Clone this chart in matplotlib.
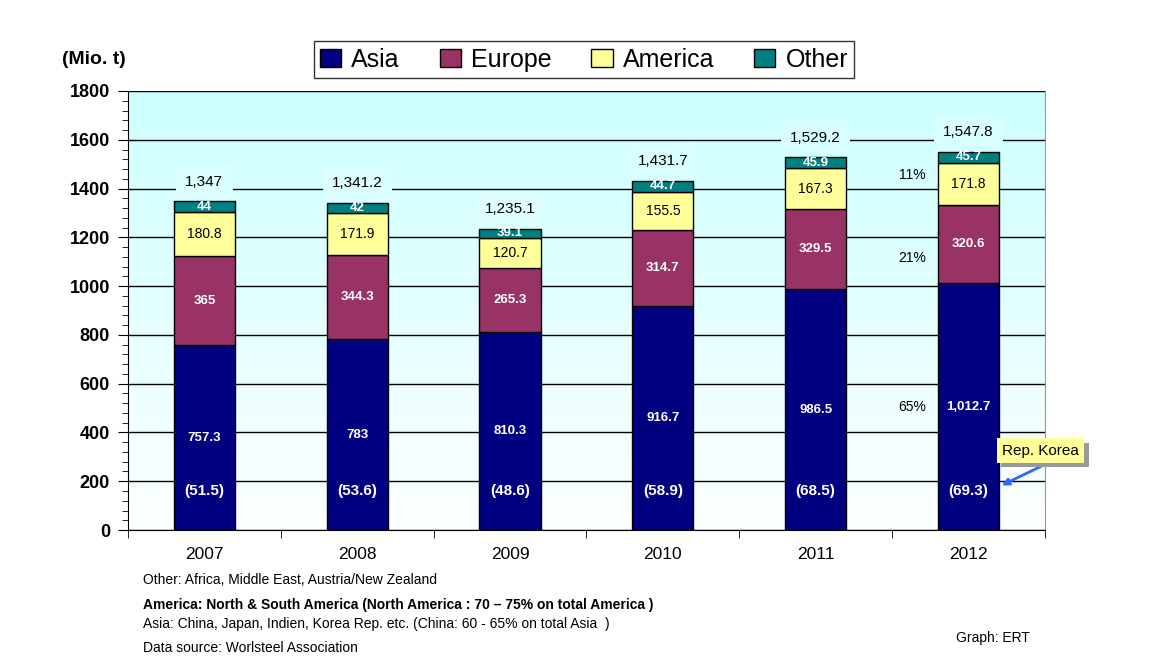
import numpy as np
import matplotlib.pyplot as plt
from matplotlib.colors import LinearSegmentedColormap
import matplotlib.patheffects as pe

plt.rcParams['font.family'] = ['Liberation Sans', 'DejaVu Sans']

years = ['2007', '2008', '2009', '2010', '2011', '2012']
asia = [757.3, 783, 810.3, 916.7, 986.5, 1012.7]
europe = [365, 344.3, 265.3, 314.7, 329.5, 320.6]
america = [180.8, 171.9, 120.7, 155.5, 167.3, 171.8]
other = [44, 42, 39.1, 44.7, 45.9, 45.7]
totals = ['1,347', '1,341.2', '1,235.1', '1,431.7', '1,529.2', '1,547.8']
asia_lbl = ['757.3', '783', '810.3', '916.7', '986.5', '1,012.7']
korea = ['(51.5)', '(53.6)', '(48.6)', '(58.9)', '(68.5)', '(69.3)']
shares = ['11%', '21%', '65%']
notes = ['Other: Africa, Middle East, Austria/New Zealand',
         'America: North & South America (North America : 70 \u2013 75% on total America )',
         'Asia: China, Japan, Indien, Korea Rep. etc. (China: 60 - 65% on total Asia  )',
         'Data source: Worlsteel Association']

fig = plt.figure(figsize=(11.75, 6.71), dpi=100)
ax = fig.add_axes([0.1089, 0.2101, 0.7804, 0.6543])

x = np.arange(len(years))
w = 0.4
a = np.array(asia); e = np.array(europe); am = np.array(america); o = np.array(other)

# gradient background, white-ish at the bottom to light cyan at the top
top_c = np.array([0.80, 1.0, 1.0])
bot_c = np.array([0.99, 1.0, 1.0])
cmap = LinearSegmentedColormap.from_list('bg', [bot_c, top_c])
grad = np.linspace(0, 1, 256).reshape(-1, 1)
ax.imshow(grad, extent=[-0.5, 5.5, 0, 1800], origin='lower', aspect='auto', cmap=cmap, zorder=0)

ax.set_ylim(0, 1800)
ax.set_xlim(-0.5, 5.5)
ax.yaxis.grid(True, color='black', lw=1, zorder=1)
ax.set_axisbelow(True)

b1 = ax.bar(x, a, w, color='#000080', edgecolor='black', lw=1, label='Asia', zorder=3)
b2 = ax.bar(x, e, w, bottom=a, color='#993366', edgecolor='black', lw=1, label='Europe', zorder=3)
b3 = ax.bar(x, am, w, bottom=a + e, color='#ffff99', edgecolor='black', lw=1, label='America', zorder=3)
b4 = ax.bar(x, o, w, bottom=a + e + am, color='#008080', edgecolor='black', lw=1, label='Other', zorder=3)

tot = a + e + am + o
for i in range(len(years)):
    ax.text(x[i], a[i] / 2, asia_lbl[i], ha='center', va='center', color='white', fontsize=9.5,
            fontweight='bold', zorder=4)
    ax.text(x[i], 160, korea[i], ha='center', va='center', color='white', fontsize=11, fontweight='bold', zorder=4)
    ax.text(x[i], a[i] + e[i] / 2, str(europe[i]), ha='center', va='center', color='white', fontsize=9.5,
            fontweight='bold', zorder=4)
    ax.text(x[i], a[i] + e[i] + am[i] / 2, str(america[i]), ha='center', va='center', color='black',
            fontsize=10, zorder=4)
    ax.text(x[i], a[i] + e[i] + am[i] + o[i] / 2, str(other[i]), ha='center', va='center', color='white',
            fontsize=9.5, fontweight='bold', zorder=4)
    ly = tot[i] + 80
    f = ly / 1800
    c = bot_c + (top_c - bot_c) * f
    c = c + (1 - c) * 0.15
    ax.text(x[i], ly, totals[i], ha='center', va='center', fontsize=11, zorder=4,
            bbox=dict(boxstyle='square,pad=0.6', fc=tuple(c), ec='none'))

# share labels for 2012
ax.text(4.72, tot[5] - 95, shares[0], ha='right', va='center', fontsize=10, zorder=4)
ax.text(4.72, a[5] + e[5] * 0.32, shares[1], ha='right', va='center', fontsize=10, zorder=4)
ax.text(4.72, a[5] / 2, shares[2], ha='right', va='center', fontsize=10, zorder=4)

# Rep. Korea callout
ax.annotate('', xy=(5.2, 178), xytext=(5.52, 275), xycoords='data', textcoords='data',
            arrowprops=dict(arrowstyle='-|>', color='#3366ff', lw=2, mutation_scale=10), zorder=5,
            annotation_clip=False)
ax.text(5.22, 325, 'Rep. Korea', ha='left', va='center', fontsize=11, zorder=6, clip_on=False,
        bbox=dict(boxstyle='square,pad=0.35', fc='#ffff99', ec='none',
                  path_effects=[pe.withSimplePatchShadow(offset=(3, -3), shadow_rgbFace='#999999', alpha=1)]))

ax.set_yticks(np.arange(0, 1801, 200))
ax.set_yticks(np.arange(0, 1801, 40), minor=True)
ax.tick_params(axis='y', which='major', length=7, direction='out', labelsize=13, pad=6)
ax.tick_params(axis='y', which='minor', length=4, direction='out')
for t in ax.get_yticklabels():
    t.set_fontweight('bold')

ax.set_xticks(x)
ax.set_xticklabels(years, fontsize=12.5)
ax.set_xticks(np.arange(-0.5, 5.6, 1), minor=True)
ax.tick_params(axis='x', which='major', length=0, pad=12)
ax.tick_params(axis='x', which='minor', length=6, direction='out')

ax.spines['top'].set_visible(False)
ax.spines['right'].set_color('#999999')
ax.spines['left'].set_color('black')
ax.spines['bottom'].set_color('black')

fig.text(0.053, 0.905, '(Mio. t)', fontsize=14, fontweight='bold')

leg = fig.legend(handles=[b1, b2, b3, b4], loc='center', bbox_to_anchor=(0.497, 0.911), ncol=4,
                 fontsize=18, frameon=True, fancybox=False, edgecolor='black', handlelength=0.85,
                 handleheight=0.75, handletextpad=0.4, columnspacing=1.6, borderpad=0.25)
leg.get_frame().set_linewidth(1)

fig.text(0.122, 0.129, notes[0], fontsize=10)
fig.text(0.122, 0.093, notes[1], fontsize=10, fontweight='bold')
fig.text(0.122, 0.064, notes[2], fontsize=10)
fig.text(0.122, 0.028, notes[3], fontsize=10)
fig.text(0.814, 0.043, 'Graph: ERT', fontsize=10)

fig.savefig('out.png', dpi=100)
